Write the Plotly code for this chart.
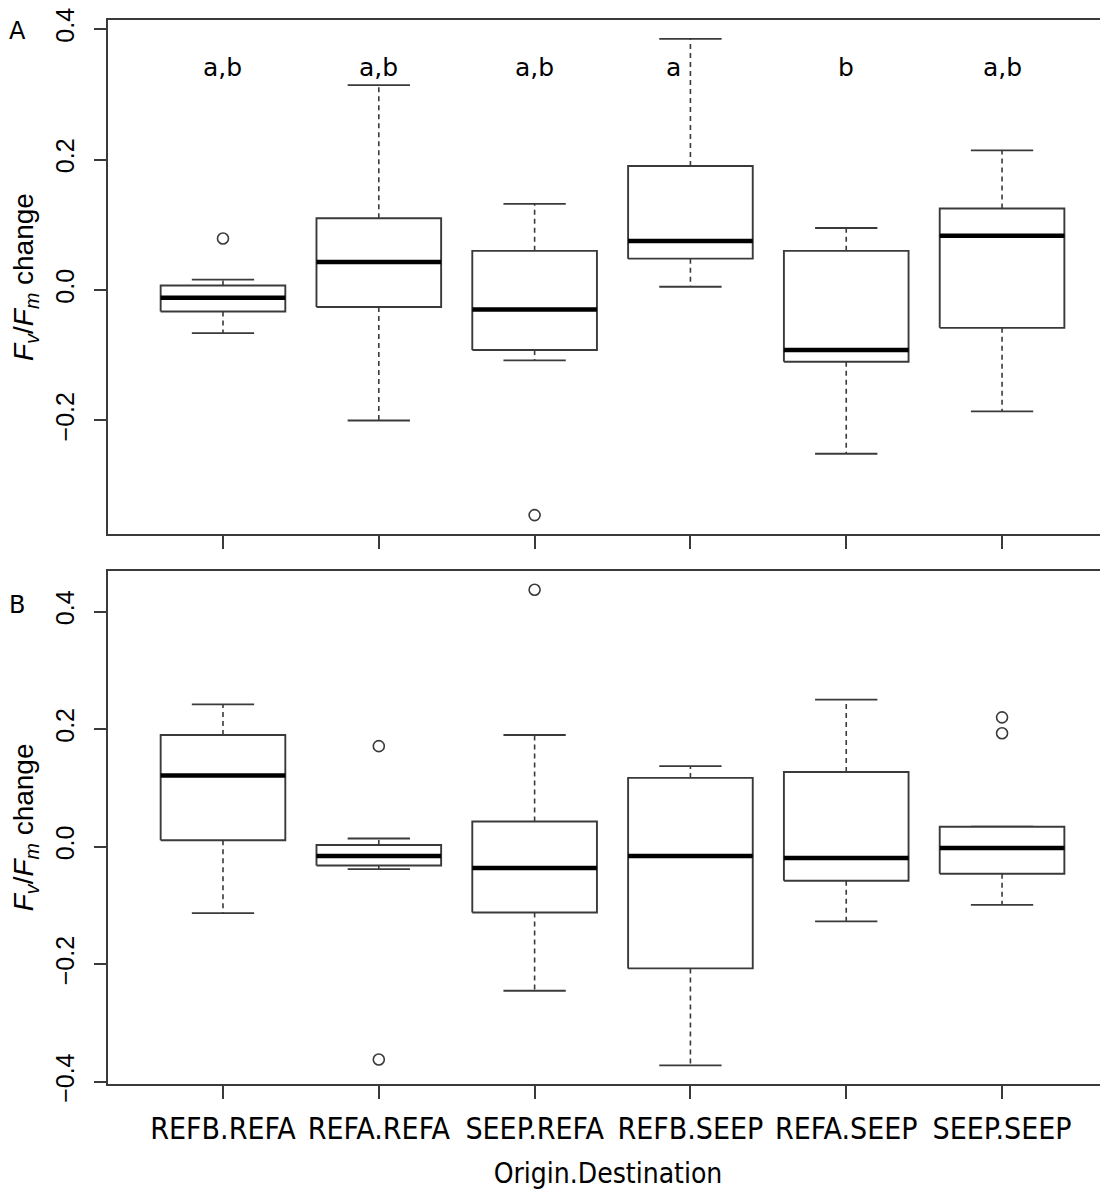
import plotly.graph_objects as go

categories = ["REFB.REFA", "REFA.REFA", "SEEP.REFA", "REFB.SEEP", "REFA.SEEP", "SEEP.SEEP"]
positions = [1, 2, 3, 4, 5, 6]

# Panel A
a_lower = [-0.066, -0.200, -0.108, 0.005, -0.251, -0.186]
a_q1 = [-0.033, -0.026, -0.092, 0.048, -0.110, -0.058]
a_median = [-0.012, 0.043, -0.030, 0.075, -0.092, 0.083]
a_q3 = [0.007, 0.110, 0.060, 0.190, 0.060, 0.125]
a_upper = [0.016, 0.314, 0.132, 0.385, 0.095, 0.214]
a_out_pos = [1, 3]
a_out_val = [0.079, -0.345]
a_letters = ["a,b", "a,b", "a,b", "a", "b", "a,b"]
a_letter_y = 0.341

# Panel B
b_lower = [-0.113, -0.038, -0.245, -0.372, -0.127, -0.099]
b_q1 = [0.011, -0.032, -0.112, -0.207, -0.058, -0.046]
b_median = [0.121, -0.016, -0.036, -0.016, -0.019, -0.002]
b_q3 = [0.190, 0.003, 0.043, 0.117, 0.127, 0.034]
b_upper = [0.242, 0.014, 0.190, 0.137, 0.250, 0.034]
b_out_pos = [2, 2, 3, 6, 6]
b_out_val = [0.171, -0.362, 0.437, 0.220, 0.193]

y_ticks = [-0.4, -0.2, 0.0, 0.2, 0.4]
y_tick_text = ["\u22120.4", "\u22120.2", "0.0", "0.2", "0.4"]

HALF = 0.4
CAP = 0.2
LINE = "#3a3a3a"

fig = go.Figure()


def add_panel(xa, ya, lower, q1, med, q3, upper, out_pos, out_val):
    bx, by, mx, my, wx, wy, cx, cy = [], [], [], [], [], [], [], []
    for p, lo, a, m, b, hi in zip(positions, lower, q1, med, q3, upper):
        bx += [p - HALF, p + HALF, p + HALF, p - HALF, p - HALF, None]
        by += [a, a, b, b, a, None]
        mx += [p - HALF, p + HALF, None]
        my += [m, m, None]
        wx += [p, p, None, p, p, None]
        wy += [b, hi, None, a, lo, None]
        cx += [p - CAP, p + CAP, None, p - CAP, p + CAP, None]
        cy += [hi, hi, None, lo, lo, None]
    common = dict(xaxis=xa, yaxis=ya, mode="lines", showlegend=False, hoverinfo="skip")
    fig.add_trace(go.Scatter(x=wx, y=wy, line=dict(color=LINE, width=1.6, dash="5px,4px"), **common))
    fig.add_trace(go.Scatter(x=cx, y=cy, line=dict(color=LINE, width=1.8), **common))
    fig.add_trace(go.Scatter(x=bx, y=by, fill="toself", fillcolor="white",
                             line=dict(color=LINE, width=1.9), **common))
    fig.add_trace(go.Scatter(x=mx, y=my, line=dict(color="black", width=4.5), **common))
    fig.add_trace(go.Scatter(x=out_pos, y=out_val, xaxis=xa, yaxis=ya, mode="markers",
                             showlegend=False, hoverinfo="skip",
                             marker=dict(symbol="circle-open", size=11, color=LINE,
                                         line=dict(width=1.6, color=LINE))))


add_panel("x", "y", a_lower, a_q1, a_median, a_q3, a_upper, a_out_pos, a_out_val)
add_panel("x2", "y2", b_lower, b_q1, b_median, b_q3, b_upper, b_out_pos, b_out_val)

# significance letters (single "a" sits slightly left of its whisker, as in the original)
letter_ann = []
for p, t in zip(positions, a_letters):
    letter_ann.append(dict(x=p, y=a_letter_y, xref="x", yref="y", text=t, showarrow=False,
                           xshift=-17 if t == "a" else 0,
                           font=dict(family="DejaVu Sans", size=25, color="black")))

xrange = [0.262, 6.68]
ytitle = "<i>F<sub>v</sub></i>/<i>F<sub>m</sub></i> change"
tickfont = dict(family="Liberation Sans, Arial", size=25, color="black")
xaxis_common = dict(range=xrange, tickmode="array", tickvals=positions, ticks="outside",
                    ticklen=13, tickwidth=1.5, tickcolor=LINE, showline=True, linecolor=LINE,
                    linewidth=1.8, mirror=True, showgrid=False, zeroline=False, automargin=False)
yaxis_common = dict(tickmode="array", tickvals=y_ticks, ticktext=y_tick_text, ticks="outside",
                    ticklen=12, tickwidth=1.5, tickcolor=LINE, showline=True, linecolor=LINE,
                    linewidth=1.8, showgrid=False, zeroline=False, tickangle=-90,
                    tickfont=tickfont, ticklabelstandoff=10, automargin=False,
                    ticklabeloverflow="allow",
                    title=dict(text=ytitle, font=dict(family="Liberation Sans, Arial", size=28,
                                                      color="black"), standoff=10))

xfont = "DejaVu Sans Condensed, Liberation Sans Narrow, DejaVu Sans"
# the page body adds an 8px margin, so the figure is 8px smaller and offset accordingly
fig.update_layout(
    width=1100, height=1183,
    margin=dict(l=100, r=0, t=12, b=107),
    paper_bgcolor="white", plot_bgcolor="white",
    xaxis=dict(domain=[0, 1], anchor="y", showticklabels=False, **xaxis_common),
    yaxis=dict(domain=[0.5169, 1], anchor="x", range=[-0.374, 0.4138], **yaxis_common),
    xaxis2=dict(domain=[0, 1], anchor="y2", ticktext=categories,
                tickfont=dict(family=xfont, size=30, color="black"),
                ticklabelstandoff=4,
                title=dict(text="Origin.Destination", standoff=18,
                           font=dict(family=xfont, size=28, color="black")),
                **xaxis_common),
    yaxis2=dict(domain=[0, 0.4824], anchor="x2", range=[-0.4036, 0.4694], **yaxis_common),
    annotations=letter_ann + [
        dict(text="A", x=0.0, y=1.0, xref="paper", yref="paper", showarrow=False,
             xanchor="left", yanchor="top", xshift=-101, yshift=5,
             font=dict(family="DejaVu Sans", size=24, color="black")),
        dict(text="B", x=0.0, y=0.4824, xref="paper", yref="paper", showarrow=False,
             xanchor="left", yanchor="top", xshift=-101, yshift=-18,
             font=dict(family="DejaVu Sans", size=24, color="black")),
    ],
)

fig.write_html("out.html")
